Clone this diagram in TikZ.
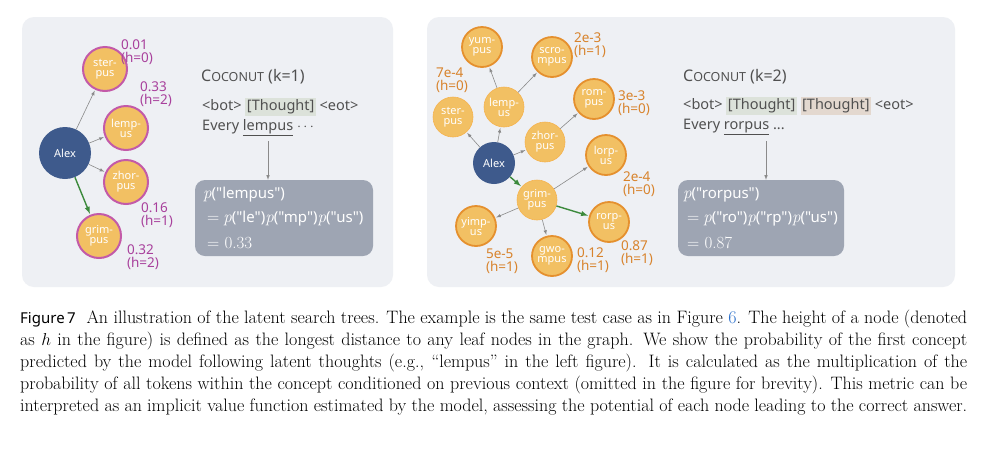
\documentclass[tikz,border=0pt]{standalone}
\usepackage{fontspec}
\newfontfamily\dsans{Noto Sans}
\tikzset{x=1pt,y=-1pt}
\definecolor{nodeor}{HTML}{F2C063}
\definecolor{purp}{HTML}{A8409C}
\definecolor{pbord}{HTML}{C35AA8}
\definecolor{obord}{HTML}{E5902E}
\definecolor{olab}{HTML}{D8832C}
\definecolor{alexc}{HTML}{3E5A8C}
\definecolor{panel}{HTML}{EEF0F4}
\definecolor{gbox}{HTML}{9EA5B3}
\definecolor{greenar}{HTML}{3C8A3C}
\definecolor{edgeg}{HTML}{8A8A8A}
\definecolor{tht}{HTML}{DCE2DA}
\definecolor{thtb}{HTML}{E3D8CF}
\definecolor{txt}{HTML}{505050}
\definecolor{linkb}{HTML}{2A6FCB}
\newcommand{\thbox}[2]{{\setlength{\fboxsep}{1.5pt}\colorbox{#1}{\strut #2}}}
\newcommand{\pf}{\rmfamily\itshape\fontsize{17}{17}\selectfont p}
\begin{document}
\begin{tikzpicture}[
  cnode/.style={circle,fill=nodeor,minimum size=#1,inner sep=0pt,align=center,text=white,font=\dsans\fontsize{11}{10}\selectfont},
  cnode/.default=44pt,
  pb/.style={draw=pbord,line width=2pt},
  ob/.style={draw=obord,line width=1.8pt},
  lb/.style={draw=nodeor!80!orange,line width=0.6pt},
  plab/.style={text=purp,align=left,font=\dsans\fontsize{13.5}{13}\selectfont},
  olabs/.style={text=olab,align=left,font=\dsans\fontsize{13.5}{13}\selectfont},
  ed/.style={draw=edgeg,-latex,line width=0.6pt,shorten >=1pt},
  ged/.style={draw=greenar,-latex,line width=1.4pt,shorten >=1pt},
  tt/.style={text=txt,anchor=west,font=\dsans\fontsize{14.5}{15}\selectfont,inner sep=0pt},
  pbox/.style={fill=gbox,rounded corners=10pt,draw=none},
  ptxt/.style={text=white,anchor=west,inner sep=0pt,font=\dsans\fontsize{15}{16}\selectfont}
]
\useasboundingbox (0,0) rectangle (991,456);
\fill[white] (0,0) rectangle (991,456);
% panels
\fill[panel,rounded corners=12pt] (22,17) rectangle (393,287);
\fill[panel,rounded corners=12pt] (427,17) rectangle (955,287);
% left tree
\node[cnode=52pt,fill=alexc] (a1) at (65,153) {Alex};
\node[cnode,pb] (s1) at (105,69) {ster-\\pus};
\node[cnode,pb] (l1) at (126,128) {lemp-\\us};
\node[cnode,pb] (z1) at (126,182) {zhor-\\pus};
\node[cnode,pb] (g1) at (99,236) {grim-\\pus};
\draw[ed] (a1) -- (s1);
\draw[ed] (a1) -- (l1);
\draw[ed] (a1) -- (z1);
\draw[ged] (a1) -- (g1);
\node[plab] (t1) at (137,52) {0.01\\(h=0)};
\node[plab] (t2) at (156,94) {0.33\\(h=2)};
\node[plab] (t3) at (157,215) {0.16\\(h=1)};
\node[plab] (t4) at (143,257) {0.32\\(h=2)};
% left text
\node[tt,font=\dsans\bfseries\fontsize{16}{16}\selectfont] (c1) at (201,77) {C{\fontsize{12.5}{13}\selectfont OCONUT} (k=1)};
\node[tt] (b1) at (202,107) {<bot> \thbox{tht}{[Thought]} <eot>};
\node[tt] (e1) at (202,128) {Every \underline{lempus} $\cdots$};
\node[pbox,minimum width=178pt,minimum height=76pt] (bx1) at (284,218) {};
\coordinate (ar1) at (268,141);
\draw[edgeg,-latex,line width=0.6pt] (ar1) -- (bx1.north -| ar1);
\node[ptxt] (f1) at (203,195) {{\pf}("lempus")};
\node[ptxt] (f2) at (207,219) {{\rmfamily\fontsize{17}{17}\selectfont =} {\pf}("le"){\pf}("mp"){\pf}("us")};
\node[ptxt] (f3) at (207,243) {{\rmfamily\fontsize{17}{17}\selectfont = 0.33}};
% right tree
\node[cnode=42pt,fill=alexc] (a2) at (494,163) {Alex};
\node[cnode=40pt,ob] (yu) at (482,47) {yum-\\pus};
\node[cnode=40pt,ob] (sc) at (552,57) {scro-\\mpus};
\node[cnode=40pt,lb] (le) at (504,107) {lemp-\\us};
\node[cnode=40pt,lb] (st) at (453,117) {ster-\\pus};
\node[cnode=40pt,ob] (ro) at (594,99) {rom-\\pus};
\node[cnode=40pt,lb] (zh) at (545,142) {zhor-\\pus};
\node[cnode=40pt,ob] (lo) at (606,155) {lorp-\\us};
\node[cnode=40pt,lb] (gr) at (537,200) {grim-\\pus};
\node[cnode=40pt,ob] (yi) at (476,226) {yimp-\\us};
\node[cnode=40pt,ob] (rr) at (609,222) {rorp-\\us};
\node[cnode=40pt,ob] (gw) at (552,256) {gwo-\\mpus};
\draw[ed] (a2) -- (st);
\draw[ed] (a2) -- (le);
\draw[ed] (a2) -- (zh);
\draw[ged] (a2) -- (gr);
\draw[ed] (le) -- (yu);
\draw[ed] (le) -- (sc);
\draw[ed] (zh) -- (ro);
\draw[ed] (gr) -- (lo);
\draw[ed] (gr) -- (yi);
\draw[ed] (gr) -- (gw);
\draw[ged] (gr) -- (rr);
\node[olabs] (u1) at (590,45) {2e-3\\(h=1)};
\node[olabs] (u2) at (452,80) {7e-4\\(h=0)};
\node[olabs] (u3) at (634,103) {3e-3\\(h=0)};
\node[olabs] (u4) at (639,184) {2e-4\\(h=0)};
\node[olabs] (u5) at (502,261) {5e-5\\(h=1)};
\node[olabs] (u6) at (593,260) {0.12\\(h=1)};
\node[olabs] (u7) at (637,253) {0.87\\(h=1)};
% right text
\node[tt,font=\dsans\bfseries\fontsize{16}{16}\selectfont] (c2) at (683,77) {C{\fontsize{12.5}{13}\selectfont OCONUT} (k=2)};
\node[tt] (b2) at (683,106) {<bot> \thbox{tht}{[Thought]} \thbox{thtb}{[Thought]} <eot>};
\node[tt] (e2) at (683,127) {Every \underline{rorpus} ...};
\node[pbox,minimum width=166pt,minimum height=76pt] (bx2) at (761,218) {};
\coordinate (ar2) at (766,141);
\draw[edgeg,-latex,line width=0.6pt] (ar2) -- (bx2.north -| ar2);
\node[ptxt] (g1t) at (683,195) {{\pf}("rorpus")};
\node[ptxt] (g2t) at (687,219) {{\rmfamily\fontsize{17}{17}\selectfont =} {\pf}("ro"){\pf}("rp"){\pf}("us")};
\node[ptxt] (g3t) at (687,243) {{\rmfamily\fontsize{17}{17}\selectfont = 0.87}};
% caption
\node[anchor=north west,inner sep=0pt,text width=947pt,align=justify,font=\fontsize{18}{21.9}\selectfont] (cap) at (20,310)
{{\dsans\bfseries\fontsize{15}{15}\selectfont Figure\,7}\ \ An illustration of the latent search trees. The example is the same test case as in Figure \textcolor{linkb}{6}. The height of a node (denoted as $h$ in the figure) is defined as the longest distance to any leaf nodes in the graph. We show the probability of the first concept predicted by the model following latent thoughts (e.g., ``lempus'' in the left figure). It is calculated as the multiplication of the probability of all tokens within the concept conditioned on previous context (omitted in the figure for brevity). This metric can be interpreted as an implicit value function estimated by the model, assessing the potential of each node leading to the correct answer.};
\end{tikzpicture}
\end{document}
